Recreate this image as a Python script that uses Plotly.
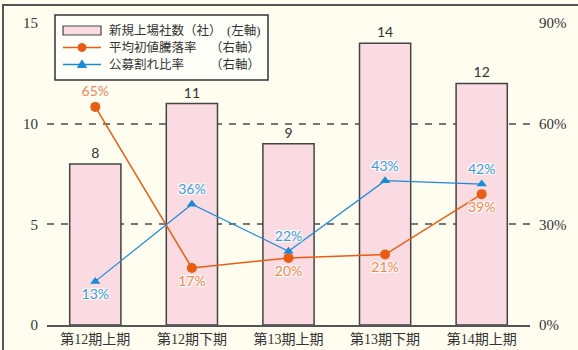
import plotly.graph_objects as go

categories = ["第12期上期", "第12期下期", "第13期上期", "第13期下期", "第14期上期"]
listings = [8, 11, 9, 14, 12]
first_day_return = [65, 17, 20, 21, 39]
below_offer_ratio = [13, 36, 22, 43, 42]
ret_pos = ["top center", "bottom center", "bottom center", "bottom center", "bottom center"]
below_pos = ["bottom center", "top center", "top center", "top center", "top center"]
left_ticks = [0, 5, 10, 15]
right_ticks = [0, 30, 60, 90]

W, H = 578, 350
L, R, T, B = 47, 48, 23, 25
PW, PH = W - L - R, H - T - B

def px(x):
    return (x - L) / PW

def py(y):
    return (H - B - y) / PH

BG = "#fffdf0"
ORANGE = "#e95d12"
ORANGE_T = "#f3874a"
BLUE = "#1c8ad6"
BLUE_T = "#3d9bd9"
PINK = "#fadbe2"
DARK = "#444444"
SERIF = "'Liberation Serif', 'DejaVu Serif', 'Noto Sans CJK JP', serif"
SANS = "Lato, 'Noto Sans', 'Noto Sans CJK JP', sans-serif"
halo = "1px 1px 1px #fff, -1px -1px 1px #fff, 1px -1px 1px #fff, -1px 1px 1px #fff"

fig = go.Figure()
fig.add_trace(go.Bar(
    x=categories, y=listings, name="新規上場社数（社）(左軸)",
    marker=dict(color=PINK, line=dict(color=DARK, width=1.5)),
    width=0.53, text=[str(v) for v in listings], textposition="outside",
    textfont=dict(family=SANS, size=14, color="#333"), cliponaxis=False,
    showlegend=False,
))
fig.add_trace(go.Scatter(
    x=categories, y=first_day_return, yaxis="y2", mode="lines+markers+text",
    name="平均初値騰落率", line=dict(color=ORANGE, width=1.5),
    marker=dict(color=ORANGE, size=10, symbol="circle"),
    text=[f"{v}%" for v in first_day_return], textposition=ret_pos,
    textfont=dict(family=SANS, size=14, color=ORANGE_T, shadow=halo),
    cliponaxis=False, showlegend=False,
))
fig.add_trace(go.Scatter(
    x=categories, y=below_offer_ratio, yaxis="y2", mode="lines+markers+text",
    name="公募割れ比率", line=dict(color=BLUE, width=1.2),
    marker=dict(color=BLUE, size=9, symbol="triangle-up"),
    text=[f"{v}%" for v in below_offer_ratio], textposition=below_pos,
    textfont=dict(family=SANS, size=14, color=BLUE_T, shadow=halo),
    cliponaxis=False, showlegend=False,
))

shapes = [
    # outer frame
    dict(type="rect", xref="paper", yref="paper", x0=px(3), x1=px(W + 20), y0=py(H + 20), y1=py(5),
         line=dict(color="#555", width=2), fillcolor="rgba(0,0,0,0)", layer="above"),
    # legend box
    dict(type="rect", xref="paper", yref="paper", x0=px(55), x1=px(268), y0=py(80), y1=py(15),
         line=dict(color="#333", width=1.5), fillcolor="#fffffa", layer="above"),
    dict(type="rect", xref="paper", yref="paper", x0=px(63), x1=px(101), y0=py(35), y1=py(26),
         line=dict(color=DARK, width=1.2), fillcolor=PINK, layer="above"),
    dict(type="line", xref="paper", yref="paper", x0=px(63), x1=px(101), y0=py(47.5), y1=py(47.5),
         line=dict(color=ORANGE, width=1.5), layer="above"),
    dict(type="circle", xref="paper", yref="paper", x0=px(78), x1=px(86), y0=py(51.5), y1=py(43.5),
         line=dict(color=ORANGE, width=1), fillcolor=ORANGE, layer="above"),
    dict(type="line", xref="paper", yref="paper", x0=px(63), x1=px(101), y0=py(64.5), y1=py(64.5),
         line=dict(color=BLUE, width=1.5), layer="above"),
    dict(type="path", xref="paper", yref="paper",
         path=f"M {px(82)} {py(60)} L {px(86.5)} {py(67.5)} L {px(77.5)} {py(67.5)} Z",
         line=dict(color=BLUE, width=1), fillcolor=BLUE, layer="above"),
]

legend_rows = [("新規上場社数（社）", "(左軸)", 30), ("平均初値騰落率", "（右軸）", 47.5), ("公募割れ比率", "（右軸）", 64.5)]
annotations = []
for left_txt, right_txt, yy in legend_rows:
    annotations.append(dict(xref="paper", yref="paper", x=px(107), y=py(yy), text=left_txt,
                            xanchor="left", yanchor="middle", showarrow=False,
                            font=dict(family=SERIF, size=12.5, color="#333")))
    annotations.append(dict(xref="paper", yref="paper", x=px(262), y=py(yy), text=right_txt,
                            xanchor="right", yanchor="middle", showarrow=False,
                            font=dict(family=SERIF, size=12.5, color="#333")))

fig.update_layout(
    width=W, height=H, margin=dict(l=L, r=R, t=T, b=B, autoexpand=False),
    paper_bgcolor=BG, plot_bgcolor=BG, showlegend=False,
    xaxis=dict(range=[-0.5, 4.5], showline=True, linecolor="#555", linewidth=2, automargin=False,
               ticks="", tickfont=dict(family=SERIF, size=14, color="#333"), showgrid=False),
    yaxis=dict(range=[0, 15], tickvals=left_ticks, showgrid=True, gridcolor="#777", automargin=False,
               griddash="7px,7px", gridwidth=2, zeroline=False, showline=False, ticks="",
               ticklabelstandoff=8, tickfont=dict(family=SERIF, size=15, color="#333")),
    yaxis2=dict(range=[0, 90], tickvals=right_ticks, ticktext=[f"{v}%" for v in right_ticks],
                overlaying="y", automargin=False,
                side="right", showgrid=False, zeroline=False, ticks="", ticklabelstandoff=8,
                tickfont=dict(family=SERIF, size=15, color="#333")),
    shapes=shapes, annotations=annotations, bargap=0.47,
)

fig.write_html("out.html")
